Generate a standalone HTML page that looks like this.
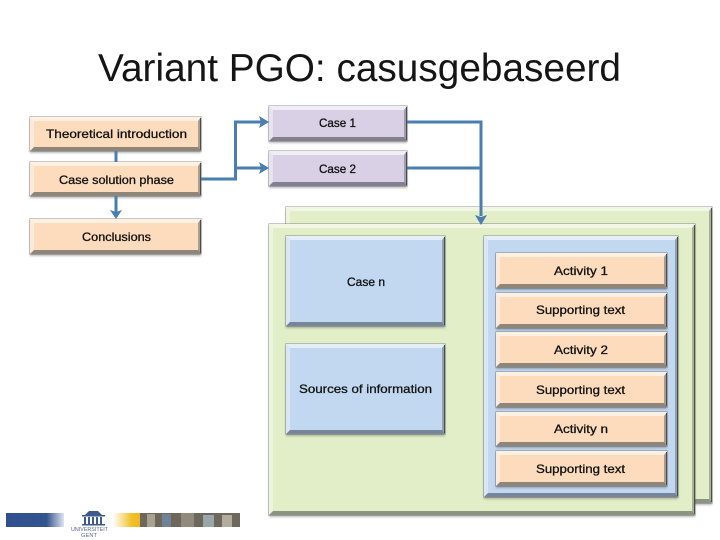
<!DOCTYPE html>
<html><head><meta charset="utf-8">
<style>
html,body{margin:0;padding:0;background:#fff}
#p{position:relative;width:720px;height:540px;overflow:hidden;background:#fff}
.b{position:absolute;box-sizing:border-box;border-style:solid;border-width:4px 3px 4px 4px;box-shadow:0 0 0 .6px rgba(90,90,90,.55),0 2px 2px rgba(80,80,80,.4)}
.b::after{content:"";position:absolute;top:-3px;bottom:-3px;right:-3px;width:1.5px;background:rgba(45,45,45,.75)}
.o{background:#fcdcbc;border-color:#fff1e2 #a89c8e #8f8578 #feeadb}
.v{background:#d9d0e6;border-color:#f1edf6 #a09dac #82808f #e8e3f0}
.g{background:#e1eec8;border-color:#f1f7e4 #a8b096 #8a9480 #edf5dc}
.l{background:#c2d8f1;border-color:#e3eefa #92a0b0 #76859a #d8e6f6}
svg{position:absolute;left:0;top:0}
text{font-family:"Liberation Sans",sans-serif;fill:#111}
.t{font-size:12px;stroke:#111;stroke-width:.3px}
</style></head><body><div id="p">
<div class="b g" style="left:286px;top:207px;width:426px;height:296px"></div>
<div class="b g" style="left:269px;top:224px;width:426px;height:291px"></div>
<div class="b l" style="left:286px;top:236px;width:159px;height:90px"></div>
<div class="b l" style="left:286px;top:344px;width:159px;height:90px"></div>
<div class="b l" style="left:484px;top:236px;width:194px;height:261px"></div>
<div class="b o" style="left:30px;top:117px;width:171px;height:34px"></div>
<div class="b o" style="left:30px;top:162px;width:171px;height:34px"></div>
<div class="b o" style="left:30px;top:219px;width:171px;height:35px"></div>
<div class="b v" style="left:269px;top:106px;width:138px;height:35px"></div>
<div class="b v" style="left:269px;top:151px;width:138px;height:35px"></div>
<div class="b o" style="left:496px;top:253px;width:171px;height:35px"></div>
<div class="b o" style="left:496px;top:293px;width:171px;height:35px"></div>
<div class="b o" style="left:496px;top:332px;width:171px;height:35px"></div>
<div class="b o" style="left:496px;top:372px;width:171px;height:35px"></div>
<div class="b o" style="left:496px;top:412px;width:171px;height:34px"></div>
<div class="b o" style="left:496px;top:451px;width:171px;height:35px"></div>
<svg width="720" height="540" viewBox="0 0 720 540">
<defs>
<linearGradient id="bl" x1="0" x2="1" y1="0" y2="0"><stop offset="0" stop-color="#2f4f8f"/><stop offset=".7" stop-color="#34538f"/><stop offset="1" stop-color="#dfe4ee"/></linearGradient>
<linearGradient id="ye" x1="0" x2="1" y1="0" y2="0"><stop offset="0" stop-color="#fff"/><stop offset=".7" stop-color="#f2c027"/><stop offset="1" stop-color="#eeb820"/></linearGradient>
</defs>
<g fill="none" stroke="#4a7db0" stroke-width="3">
<path d="M116 151V162"/>
<path d="M116 196V212"/>
<path d="M201 179H235.5V122H263"/>
<path d="M235.5 168H263"/>
<path d="M407 122H481V216"/>
<path d="M407 168H481"/>
</g>
<g fill="#4a7db0">
<path d="M110 210L116 212L122 210L116 219Z"/>
<path d="M259 116L261 122L259 128L269 122Z"/>
<path d="M259 162L261 168L259 174L269 168Z"/>
<path d="M475 215L481 217L487 215L481 225Z"/>
</g>
<text x="98" y="81" font-size="39" textLength="523" lengthAdjust="spacingAndGlyphs" style="fill:#151515">Variant PGO: casusgebaseerd</text>
<text class="t" x="46" y="138" textLength="141" lengthAdjust="spacingAndGlyphs">Theoretical introduction</text>
<text class="t" x="59" y="184" textLength="115" lengthAdjust="spacingAndGlyphs">Case solution phase</text>
<text class="t" x="82" y="241" textLength="69" lengthAdjust="spacingAndGlyphs">Conclusions</text>
<text class="t" x="319" y="127" textLength="37" lengthAdjust="spacingAndGlyphs">Case 1</text>
<text class="t" x="319" y="173" textLength="37" lengthAdjust="spacingAndGlyphs">Case 2</text>
<text class="t" x="347" y="286" textLength="38" lengthAdjust="spacingAndGlyphs">Case n</text>
<text class="t" x="299" y="393" textLength="133" lengthAdjust="spacingAndGlyphs">Sources of information</text>
<text class="t" x="554" y="275" textLength="54" lengthAdjust="spacingAndGlyphs">Activity 1</text>
<text class="t" x="536" y="314" textLength="89" lengthAdjust="spacingAndGlyphs">Supporting text</text>
<text class="t" x="554" y="354" textLength="54" lengthAdjust="spacingAndGlyphs">Activity 2</text>
<text class="t" x="536" y="394" textLength="89" lengthAdjust="spacingAndGlyphs">Supporting text</text>
<text class="t" x="554" y="433" textLength="54" lengthAdjust="spacingAndGlyphs">Activity n</text>
<text class="t" x="536" y="473" textLength="89" lengthAdjust="spacingAndGlyphs">Supporting text</text>
<rect x="6" y="513" width="58" height="14" fill="url(#bl)"/>
<g fill="#3d5a8f">
<path d="M89 511H98L102 515H85Z"/>
<rect x="82" y="515" width="23" height="1.5"/>
<rect x="82" y="524" width="23" height="1.5"/>
<rect x="84" y="517" width="2" height="7"/><rect x="88" y="517" width="2" height="7"/><rect x="92" y="517" width="2" height="7"/><rect x="96" y="517" width="2" height="7"/><rect x="100" y="517" width="2" height="7"/>
</g>
<text x="71" y="531" font-size="5.5" textLength="37" lengthAdjust="spacingAndGlyphs" style="fill:#5a6a8a">UNIVERSITEIT</text>
<text x="81" y="537" font-size="5.5" textLength="16" lengthAdjust="spacingAndGlyphs" style="fill:#5a6a8a">GENT</text>
<rect x="113" y="513" width="27" height="14" fill="url(#ye)"/>
<rect x="140" y="513" width="100" height="14" fill="#6d675c"/>
<rect x="147" y="514" width="8" height="13" fill="#a8a292"/>
<rect x="162" y="514" width="9" height="13" fill="#6f8296"/>
<rect x="181" y="513" width="13" height="14" fill="#8f8a7c"/>
<rect x="203" y="515" width="11" height="12" fill="#9aa7a8"/>
<rect x="222" y="515" width="10" height="12" fill="#b3ab9c"/>
</svg>
</div></body></html>
